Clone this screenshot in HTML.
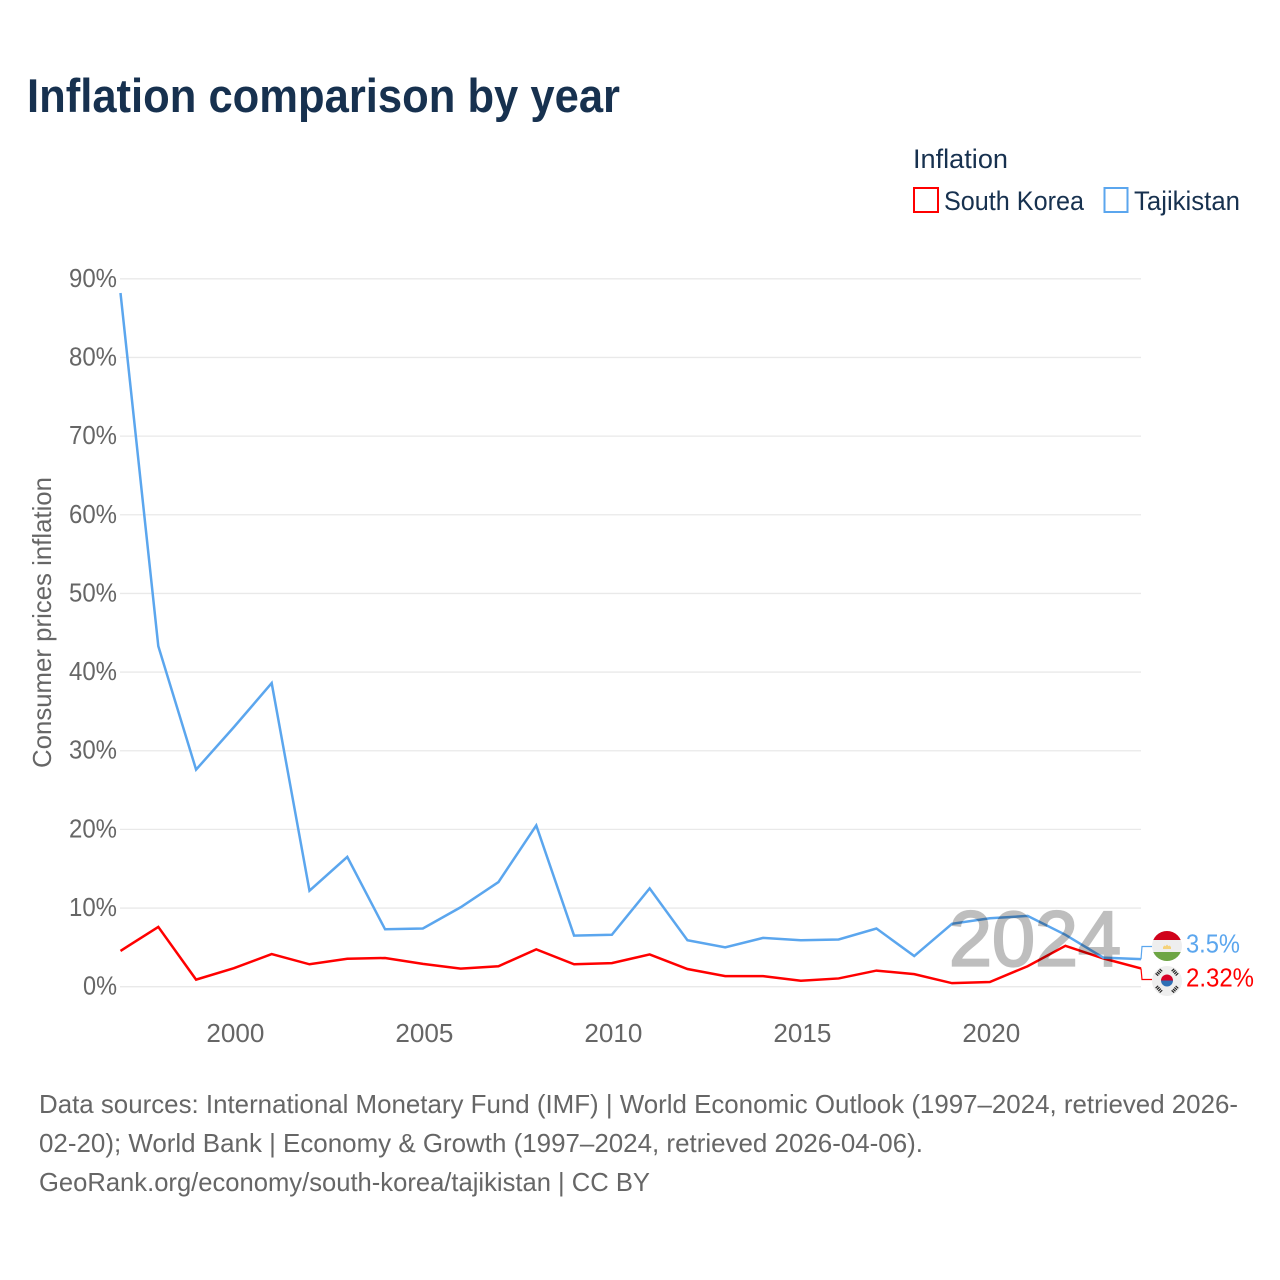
<!DOCTYPE html>
<html lang="en">
<head>
<meta charset="utf-8">
<title>Inflation comparison by year</title>
<style>
html,body{margin:0;padding:0;background:#fff;}
svg{display:block;font-family:"Liberation Sans",Arial,sans-serif;}
</style>
</head>
<body>
<svg id="chart" xmlns="http://www.w3.org/2000/svg" width="1280" height="1280" viewBox="0 0 1280 1280">
  <rect width="1280" height="1280" fill="#fff"/>
  <text x="27" y="112" font-size="47" font-weight="700" fill="#17314f" textLength="593" lengthAdjust="spacingAndGlyphs">Inflation comparison by year</text>

  <g>
    <text x="913" y="168" font-size="27" fill="#17314f" textLength="95" lengthAdjust="spacingAndGlyphs">Inflation</text>
    <g>
      <rect x="914" y="188" width="24" height="24" fill="none" stroke="#ff0000" stroke-width="2"/>
      <text x="944" y="210" font-size="27" fill="#17314f" textLength="140" lengthAdjust="spacingAndGlyphs">South Korea</text>
    </g>
    <g>
      <rect x="1104.5" y="188" width="23" height="24" fill="none" stroke="#5ba6ee" stroke-width="2"/>
      <text x="1134" y="210" font-size="27" fill="#17314f" textLength="106" lengthAdjust="spacingAndGlyphs">Tajikistan</text>
    </g>
  </g>

  <text transform="translate(51,768) rotate(-90)" x="0" y="0" font-size="26" fill="#666" textLength="291" lengthAdjust="spacingAndGlyphs">Consumer prices inflation</text>

  <g id="grid"></g>
  <g id="yticks"></g>
  <g id="xticks"></g>
  <g id="series"></g>

  <text x="949" y="965.500" font-size="78" fill="#000" stroke="#000" stroke-width="2.200" opacity="0.25" textLength="172" lengthAdjust="spacingAndGlyphs">2024</text>

  <defs>
    <clipPath id="clipTj"><circle cx="1167" cy="946" r="15"/></clipPath>
    <clipPath id="clipKr"><circle cx="1167" cy="981" r="15"/></clipPath>
  </defs>
  <g>
    <g clip-path="url(#clipTj)">
      <rect x="1152" y="931" width="30" height="30" fill="#eeeeee"/>
      <rect x="1152" y="931" width="30" height="9" fill="#d0021b"/>
      <rect x="1152" y="952" width="30" height="9" fill="#6da544"/>
      <path d="M1163 949h8v-2l-1.500-1.500-1 .7-1.500-1.700-1.500 1.700-1-.7-1.500 1.500z" fill="#f5d27a"/>
    </g>
  </g>
  <g>
    <g clip-path="url(#clipKr)">
      <rect x="1152" y="966" width="30" height="30" fill="#eeeeee"/>
      <path d="M1161 980.500a6 6 0 0 1 12 0z" fill="#d80027"/>
      <path d="M1161 980.500a6 6 0 0 0 12 0z" fill="#2e6fb5"/>
      <g stroke="#222" stroke-width="3.500" fill="none" stroke-dasharray="1.200 .8">
        <path d="M1156.500 975l5-5.500"/>
        <path d="M1172.500 969.500l5 5.500"/>
        <path d="M1156.500 986.500l5 5.500"/>
        <path d="M1172.500 992l5-5.500"/>
      </g>
    </g>
  </g>
  <text x="1186" y="952.700" font-size="26" fill="#5ba6ee" textLength="54" lengthAdjust="spacingAndGlyphs">3.5%</text>
  <text x="1186" y="986.700" font-size="26" fill="#ff0000" textLength="68" lengthAdjust="spacingAndGlyphs">2.32%</text>

  <g font-size="26" fill="#666">
    <text x="39" y="1113" textLength="1199" lengthAdjust="spacingAndGlyphs">Data sources: International Monetary Fund (IMF) | World Economic Outlook (1997–2024, retrieved 2026-</text>
    <text x="39" y="1152" textLength="884" lengthAdjust="spacingAndGlyphs">02-20); World Bank | Economy &amp; Growth (1997–2024, retrieved 2026-04-06).</text>
    <text x="39" y="1191" textLength="611" lengthAdjust="spacingAndGlyphs">GeoRank.org/economy/south-korea/tajikistan | CC BY</text>
  </g>
</svg>
<script>
const years = [1997,1998,1999,2000,2001,2002,2003,2004,2005,2006,2007,2008,2009,2010,2011,2012,2013,2014,2015,2016,2017,2018,2019,2020,2021,2022,2023,2024];
const tajikistan = [88.2,43.3,27.6,33.0,38.6,12.2,16.5,7.3,7.4,10.1,13.3,20.5,6.5,6.6,12.5,5.9,5.0,6.2,5.9,6.0,7.4,3.9,8.0,8.7,9.0,6.6,3.7,3.5];
const southKorea = [4.55,7.6,0.9,2.35,4.15,2.85,3.55,3.65,2.9,2.3,2.6,4.75,2.85,3.0,4.1,2.25,1.35,1.35,0.75,1.05,2.05,1.6,0.45,0.6,2.6,5.2,3.6,2.32];
const yTicks = [0,10,20,30,40,50,60,70,80,90];
const xTicks = [2000,2005,2010,2015,2020];

const NS = 'http://www.w3.org/2000/svg';
const xScale = function (year) { return 120.5 + (year - 1997) * (1141 - 120.5) / 27; };
const yScale = function (value) { return 986.7 - value * (986.7 - 278.8) / 90; };

const gridGroup = document.getElementById('grid');
const yTickGroup = document.getElementById('yticks');
const xTickGroup = document.getElementById('xticks');
const seriesGroup = document.getElementById('series');

yTicks.forEach(function (tick) {
  const line = document.createElementNS(NS, 'line');
  
  
  line.setAttribute('x1', 120);
  line.setAttribute('x2', 1141);
  line.setAttribute('y1', yScale(tick));
  line.setAttribute('y2', yScale(tick));
  line.setAttribute('stroke', '#e9e9e9');
  line.setAttribute('stroke-width', 1.3);
  gridGroup.appendChild(line);

  const label = document.createElementNS(NS, 'text');
  
  
  const width = tick === 0 ? 34 : 48;
  label.setAttribute('x', 117 - width);
  label.setAttribute('y', yScale(tick) + 8);
  label.setAttribute('font-size', 26);
  label.setAttribute('fill', '#666');
  label.setAttribute('textLength', width);
  label.setAttribute('lengthAdjust', 'spacingAndGlyphs');
  label.textContent = tick + '%';
  yTickGroup.appendChild(label);
});

xTicks.forEach(function (tick) {
  const label = document.createElementNS(NS, 'text');
  
  
  label.setAttribute('x', xScale(tick) + 1.5 - 29);
  label.setAttribute('y', 1042);
  label.setAttribute('font-size', 26);
  label.setAttribute('fill', '#666');
  label.setAttribute('textLength', 58);
  label.setAttribute('lengthAdjust', 'spacingAndGlyphs');
  label.textContent = tick;
  xTickGroup.appendChild(label);
});

function pathFor(values) {
  return values.map(function (value, i) {
    return (i ? 'L' : 'M') + xScale(years[i]).toFixed(2) + ' ' + yScale(value).toFixed(2);
  }).join('');
}

const koreaLine = document.createElementNS(NS, 'path');


koreaLine.setAttribute('d', pathFor(southKorea));
koreaLine.setAttribute('fill', 'none');
koreaLine.setAttribute('stroke', '#ff0000');
koreaLine.setAttribute('stroke-width', 2.5);
seriesGroup.appendChild(koreaLine);

const tajikLine = document.createElementNS(NS, 'path');


tajikLine.setAttribute('d', pathFor(tajikistan));
tajikLine.setAttribute('fill', 'none');
tajikLine.setAttribute('stroke', '#5ba6ee');
tajikLine.setAttribute('stroke-width', 2.5);
seriesGroup.appendChild(tajikLine);

const lastX = xScale(years[years.length - 1]);

const tajikConnector = document.createElementNS(NS, 'path');


tajikConnector.setAttribute('d', 'M' + lastX + ' ' + yScale(tajikistan[tajikistan.length - 1]) + 'L' + (lastX + 1) + ' 946.5H1152');
tajikConnector.setAttribute('fill', 'none');
tajikConnector.setAttribute('stroke', '#5ba6ee');
tajikConnector.setAttribute('stroke-width', 1.2);
seriesGroup.appendChild(tajikConnector);

const koreaConnector = document.createElementNS(NS, 'path');


koreaConnector.setAttribute('d', 'M' + lastX + ' ' + yScale(southKorea[southKorea.length - 1]) + 'L' + (lastX + 1) + ' 979.5H1152');
koreaConnector.setAttribute('fill', 'none');
koreaConnector.setAttribute('stroke', '#ff0000');
koreaConnector.setAttribute('stroke-width', 1.2);
seriesGroup.appendChild(koreaConnector);
</script>
</body>
</html>
